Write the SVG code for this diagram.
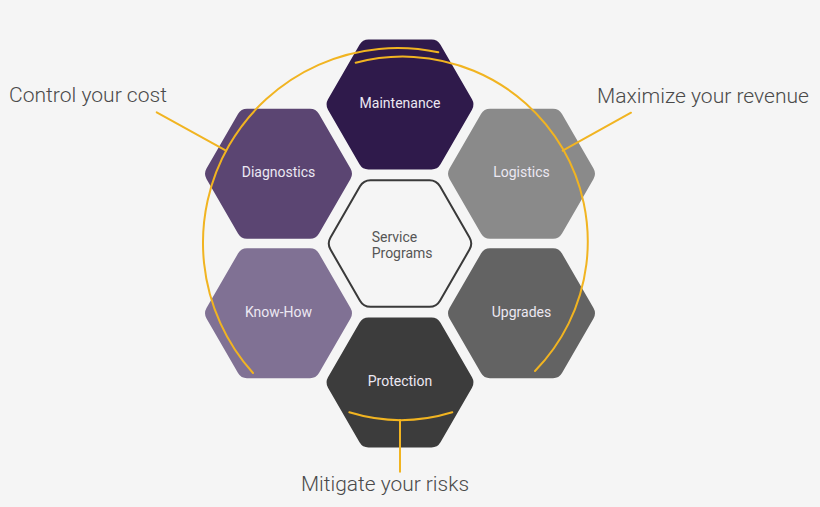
<svg xmlns="http://www.w3.org/2000/svg" xmlns:xlink="http://www.w3.org/1999/xlink" width="820" height="507" viewBox="0 0 820 507">
  <style>
    .lbl { font-family: Roboto, "Liberation Sans", sans-serif; font-size: 14px; fill: #ece8f2; text-anchor: middle; }
    .svc { font-family: Roboto, "Liberation Sans", sans-serif; font-size: 14px; fill: #555555; }
    .ann { font-family: Roboto, "Liberation Sans", sans-serif; font-size: 21px; font-weight: 300; fill: #4a4a4a; }
    .yl { fill: none; stroke: #f1b421; stroke-width: 2; stroke-linecap: round; }
  </style>
  <defs>
    <path id="hex" d="M72,5.2 L40.5,59.75 Q37.5,64.95 31.5,64.95 L-31.5,64.95 Q-37.5,64.95 -40.5,59.75 L-72,5.2 Q-75,0 -72,-5.2 L-40.5,-59.75 Q-37.5,-64.95 -31.5,-64.95 L31.5,-64.95 Q37.5,-64.95 40.5,-59.75 L72,-5.2 Q75,0 72,5.2 Z"/>
  </defs>
  <rect width="820" height="507" fill="#f5f5f5"/>

  <g id="maintenance">
    <use xlink:href="#hex" href="#hex" x="400" y="104.5" fill="#2f1a4b"/>
    <text class="lbl" x="400" y="107.7">Maintenance</text>
  </g>
  <g id="service-programs">
    <path transform="translate(400,243.5)" d="M69.5,6.06 L40,57.16 Q36.5,63.22 29.5,63.22 L-29.5,63.22 Q-36.5,63.22 -40,57.16 L-69.5,6.06 Q-73,0 -69.5,-6.06 L-40,-57.16 Q-36.5,-63.22 -29.5,-63.22 L29.5,-63.22 Q36.5,-63.22 40,-57.16 L69.5,-6.06 Q73,0 69.5,6.06 Z" fill="#f5f5f5" stroke="#3a3a3a" stroke-width="2"/>
    <text class="svc" x="371.7" y="241.7">Service</text>
    <text class="svc" x="371.7" y="257.5">Programs</text>
  </g>
  <g id="protection">
    <use xlink:href="#hex" href="#hex" x="400" y="382.5" fill="#3c3c3c"/>
    <text class="lbl" x="400" y="386">Protection</text>
  </g>
  <g id="diagnostics">
    <use xlink:href="#hex" href="#hex" x="278.5" y="173.8" fill="#5b4572"/>
    <text class="lbl" x="278.5" y="177.3">Diagnostics</text>
  </g>
  <g id="know-how">
    <use xlink:href="#hex" href="#hex" x="278.5" y="313.3" fill="#807194"/>
    <text class="lbl" x="278.5" y="316.5">Know-How</text>
  </g>
  <g id="logistics">
    <use xlink:href="#hex" href="#hex" x="521.5" y="173.8" fill="#8a8a8a"/>
    <text class="lbl" x="521.5" y="177.3">Logistics</text>
  </g>
  <g id="upgrades">
    <use xlink:href="#hex" href="#hex" x="521.5" y="313.3" fill="#636363"/>
    <text class="lbl" x="521.5" y="316.7">Upgrades</text>
  </g>

  <g id="connectors">
    <path class="yl" d="M253,373 A194.7,194.7 0 0 1 438.3,52.3"/>
    <path class="yl" d="M355.7,62.7 A185,185 0 0 1 535,371"/>
    <path class="yl" d="M349.3,412.3 A176,176 0 0 0 452.3,412.3"/>
    <path class="yl" d="M156.7,112.3 L226,150.7"/>
    <path class="yl" d="M631,112.7 L562.7,150.7"/>
    <path class="yl" d="M400,420 L400,471.7"/>
  </g>

  <g id="annotations">
    <text class="ann" x="9" y="102" textLength="158" lengthAdjust="spacingAndGlyphs">Control your cost</text>
    <text class="ann" x="597" y="103" textLength="212" lengthAdjust="spacingAndGlyphs">Maximize your revenue</text>
    <text class="ann" x="301" y="490.7" textLength="168" lengthAdjust="spacingAndGlyphs">Mitigate your risks</text>
  </g>
</svg>
